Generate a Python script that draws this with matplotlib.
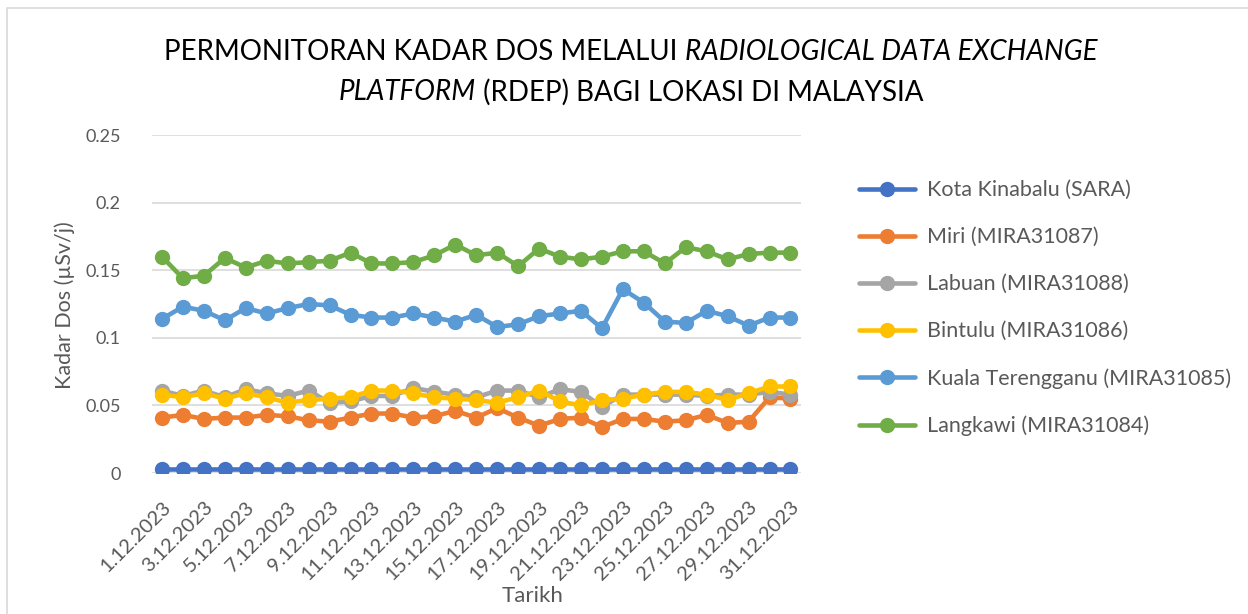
import numpy as np
import matplotlib.pyplot as plt
from matplotlib.patches import Rectangle

plt.rcParams['font.family'] = ['Lato', 'DejaVu Sans']

days = [f"{d}.12.2023" for d in range(1, 32)]

kota_kinabalu = [0.003] * 31
miri = [0.041, 0.043, 0.040, 0.041, 0.041, 0.043, 0.042, 0.039, 0.038, 0.041,
        0.044, 0.044, 0.041, 0.042, 0.046, 0.041, 0.048, 0.041, 0.035, 0.040,
        0.041, 0.034, 0.040, 0.040, 0.038, 0.039, 0.043, 0.037, 0.038, 0.056, 0.055]
labuan = [0.061, 0.057, 0.061, 0.056, 0.062, 0.059, 0.057, 0.061, 0.052, 0.053,
          0.057, 0.057, 0.063, 0.060, 0.058, 0.056, 0.061, 0.061, 0.056, 0.062,
          0.060, 0.049, 0.058, 0.058, 0.058, 0.058, 0.057, 0.058, 0.058, 0.060, 0.058]
bintulu = [0.058, 0.056, 0.059, 0.055, 0.059, 0.056, 0.052, 0.054, 0.055, 0.056,
           0.061, 0.061, 0.059, 0.056, 0.055, 0.054, 0.052, 0.056, 0.061, 0.053,
           0.050, 0.054, 0.055, 0.058, 0.060, 0.060, 0.058, 0.054, 0.059, 0.064, 0.064]
kuala_terengganu = [0.114, 0.123, 0.120, 0.113, 0.122, 0.118, 0.122, 0.125, 0.124, 0.117,
                    0.115, 0.115, 0.118, 0.115, 0.112, 0.117, 0.108, 0.110, 0.116, 0.118,
                    0.120, 0.107, 0.136, 0.126, 0.112, 0.111, 0.120, 0.116, 0.109, 0.115, 0.115]
langkawi = [0.160, 0.144, 0.146, 0.159, 0.152, 0.157, 0.155, 0.156, 0.157, 0.163,
            0.155, 0.155, 0.156, 0.161, 0.169, 0.161, 0.163, 0.153, 0.166, 0.160,
            0.158, 0.160, 0.164, 0.164, 0.155, 0.167, 0.164, 0.158, 0.162, 0.163, 0.163]

series = [
    ("Kota Kinabalu (SARA)", kota_kinabalu, "#4472C4"),
    ("Miri (MIRA31087)", miri, "#ED7D31"),
    ("Labuan (MIRA31088)", labuan, "#A5A5A5"),
    ("Bintulu (MIRA31086)", bintulu, "#FFC000"),
    ("Kuala Terengganu (MIRA31085)", kuala_terengganu, "#5B9BD5"),
    ("Langkawi (MIRA31084)", langkawi, "#70AD47"),
]

fig = plt.figure(figsize=(12.48, 6.14), dpi=100)
fig.patches.append(Rectangle((7 / 1248, -0.1), 1.2, 0.1 + 1 - 8 / 614,
                             transform=fig.transFigure, fill=False,
                             edgecolor="#d9d9d9", linewidth=1.2))

ax = fig.add_axes([0.1214, 0.2296, 0.5204, 0.5505])
x = np.arange(len(days))
for name, vals, col in series:
    ax.plot(x, vals, color=col, linewidth=3.3, marker="o", markersize=10,
            label=name, solid_capstyle="round")

ax.set_xlim(-0.5, len(days) - 0.5)
ax.set_ylim(0, 0.25)
ax.set_yticks(np.arange(0, 0.26, 0.05))
ax.set_yticklabels(["0", "0.05", "0.1", "0.15", "0.2", "0.25"])
ax.set_xticks(x[::2])
ax.set_xticklabels(days[::2], rotation=45, ha="right", va="top",
                   rotation_mode="anchor")
ax.tick_params(axis="both", length=0, colors="#595959", labelsize=13)
ax.tick_params(axis="x", pad=18, labelsize=14.5)
ax.tick_params(axis="y", pad=22)
ax.grid(axis="y", color="#d9d9d9", linewidth=1.2)
ax.set_axisbelow(True)
for s in ax.spines.values():
    s.set_visible(False)

fig.text(65 / 1248, 1 - 305 / 614, "Kadar Dos (µSv/j)", fontsize=15.5,
         color="#595959", rotation=90, ha="center", va="center")
ax.set_xlabel("Tarikh", fontsize=16, color="#595959")
ax.xaxis.set_label_coords(0.587, -0.335)

ax.legend(loc="center left", bbox_to_anchor=(1.06, 0.4876), frameon=False,
          fontsize=15.5, labelcolor="#595959", handlelength=2.6,
          labelspacing=1.25, handletextpad=0.55)

# title with italic parts, built piece by piece
renderer = fig.canvas.get_renderer()
title_lines = [
    [("PERMONITORAN KADAR DOS MELALUI ", "normal"),
     ("RADIOLOGICAL DATA EXCHANGE", "italic")],
    [("PLATFORM", "italic"), (" (RDEP) BAGI LOKASI DI MALAYSIA", "normal")],
]
line_y = [0.915, 0.850]
cx = 0.5 * (167 + 1095) / 1248
for parts, yy in zip(title_lines, line_y):
    texts = [fig.text(0, yy, t, fontsize=20, style=st, color="#000000",
                      ha="left", va="center") for t, st in parts]
    widths = [tx.get_window_extent(renderer).width / fig.bbox.width for tx in texts]
    start = cx - sum(widths) / 2
    for tx, w in zip(texts, widths):
        tx.set_x(start)
        start += w

fig.savefig("out.png", dpi=100)
